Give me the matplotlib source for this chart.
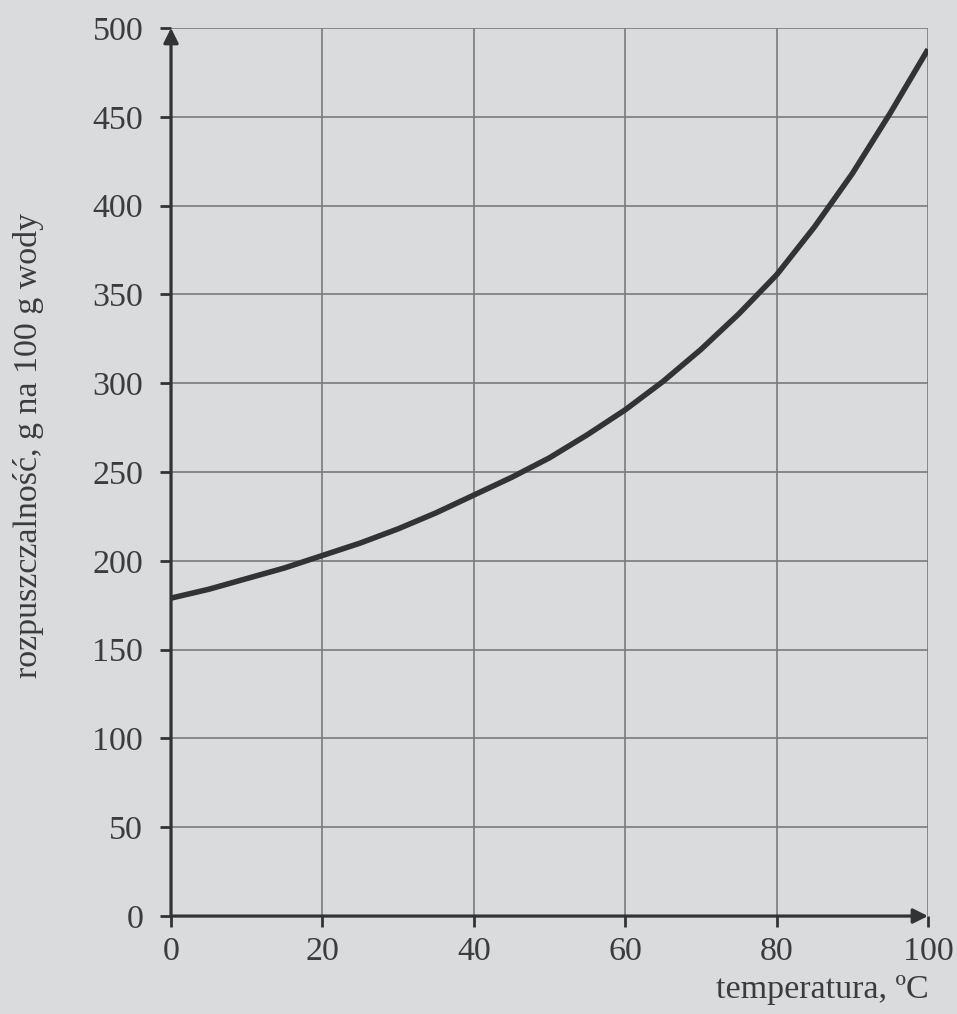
import matplotlib
matplotlib.use('Agg')
import matplotlib.pyplot as plt

# solubility curve (every 5 degC)
temperatura = [0, 5, 10, 15, 20, 25, 30, 35, 40, 45, 50,
               55, 60, 65, 70, 75, 80, 85, 90, 95, 100]
rozpuszczalnosc = [179, 184, 190, 196, 203, 210, 218, 227, 237, 247, 258,
                   271, 285, 301, 319, 339, 361, 388, 418, 452, 488]

x_ticks = [0, 20, 40, 60, 80, 100]
y_ticks = [0, 50, 100, 150, 200, 250, 300, 350, 400, 450, 500]

bg = '#dadbdd'
ink = '#333333'
grid_col = '#7a7a7a'

plt.rcParams['font.family'] = ['Liberation Serif', 'DejaVu Serif']

fig = plt.figure(figsize=(9.57, 10.14), dpi=100, facecolor=bg)
ax = fig.add_axes([0.1787, 0.0966, 0.791, 0.8758])
ax.set_facecolor(bg)

ax.set_xlim(0, 100)
ax.set_ylim(0, 500)
ax.set_xticks(x_ticks)
ax.set_yticks(y_ticks)

# grid (all ticks, also the top and right edge)
for xv in x_ticks[1:]:
    ax.axvline(xv, color=grid_col, lw=1.2, zorder=1)
for yv in y_ticks[1:]:
    ax.axhline(yv, color=grid_col, lw=1.2, zorder=1)

for s in ax.spines.values():
    s.set_visible(False)

# axes with arrows
ax.annotate('', xy=(0, 500), xytext=(0, 0),
            arrowprops=dict(arrowstyle='-|>', color=ink, lw=2.3,
                            mutation_scale=22, shrinkA=0, shrinkB=0),
            annotation_clip=False, zorder=4)
ax.annotate('', xy=(100, 0), xytext=(0, 0),
            arrowprops=dict(arrowstyle='-|>', color=ink, lw=2.3,
                            mutation_scale=22, shrinkA=0, shrinkB=0),
            annotation_clip=False, zorder=4)

ax.plot(temperatura, rozpuszczalnosc, color=ink, lw=4, solid_capstyle='butt', zorder=3)

ax.tick_params(axis='both', direction='out', length=8, width=2, color=ink,
               labelsize=24.5, labelcolor='#3c3c3c')
ax.tick_params(axis='y', pad=12)
ax.tick_params(axis='x', pad=7)

fig.text(0.030, 0.561, 'rozpuszczalność, g na 100 g wody', rotation=90,
         ha='center', va='center', fontsize=24.5, color='#3c3c3c')
fig.text(0.970, 0.024, 'temperatura, ºC', ha='right', va='center',
         fontsize=24.5, color='#3c3c3c')

fig.savefig('out.png', dpi=100, facecolor=bg)
